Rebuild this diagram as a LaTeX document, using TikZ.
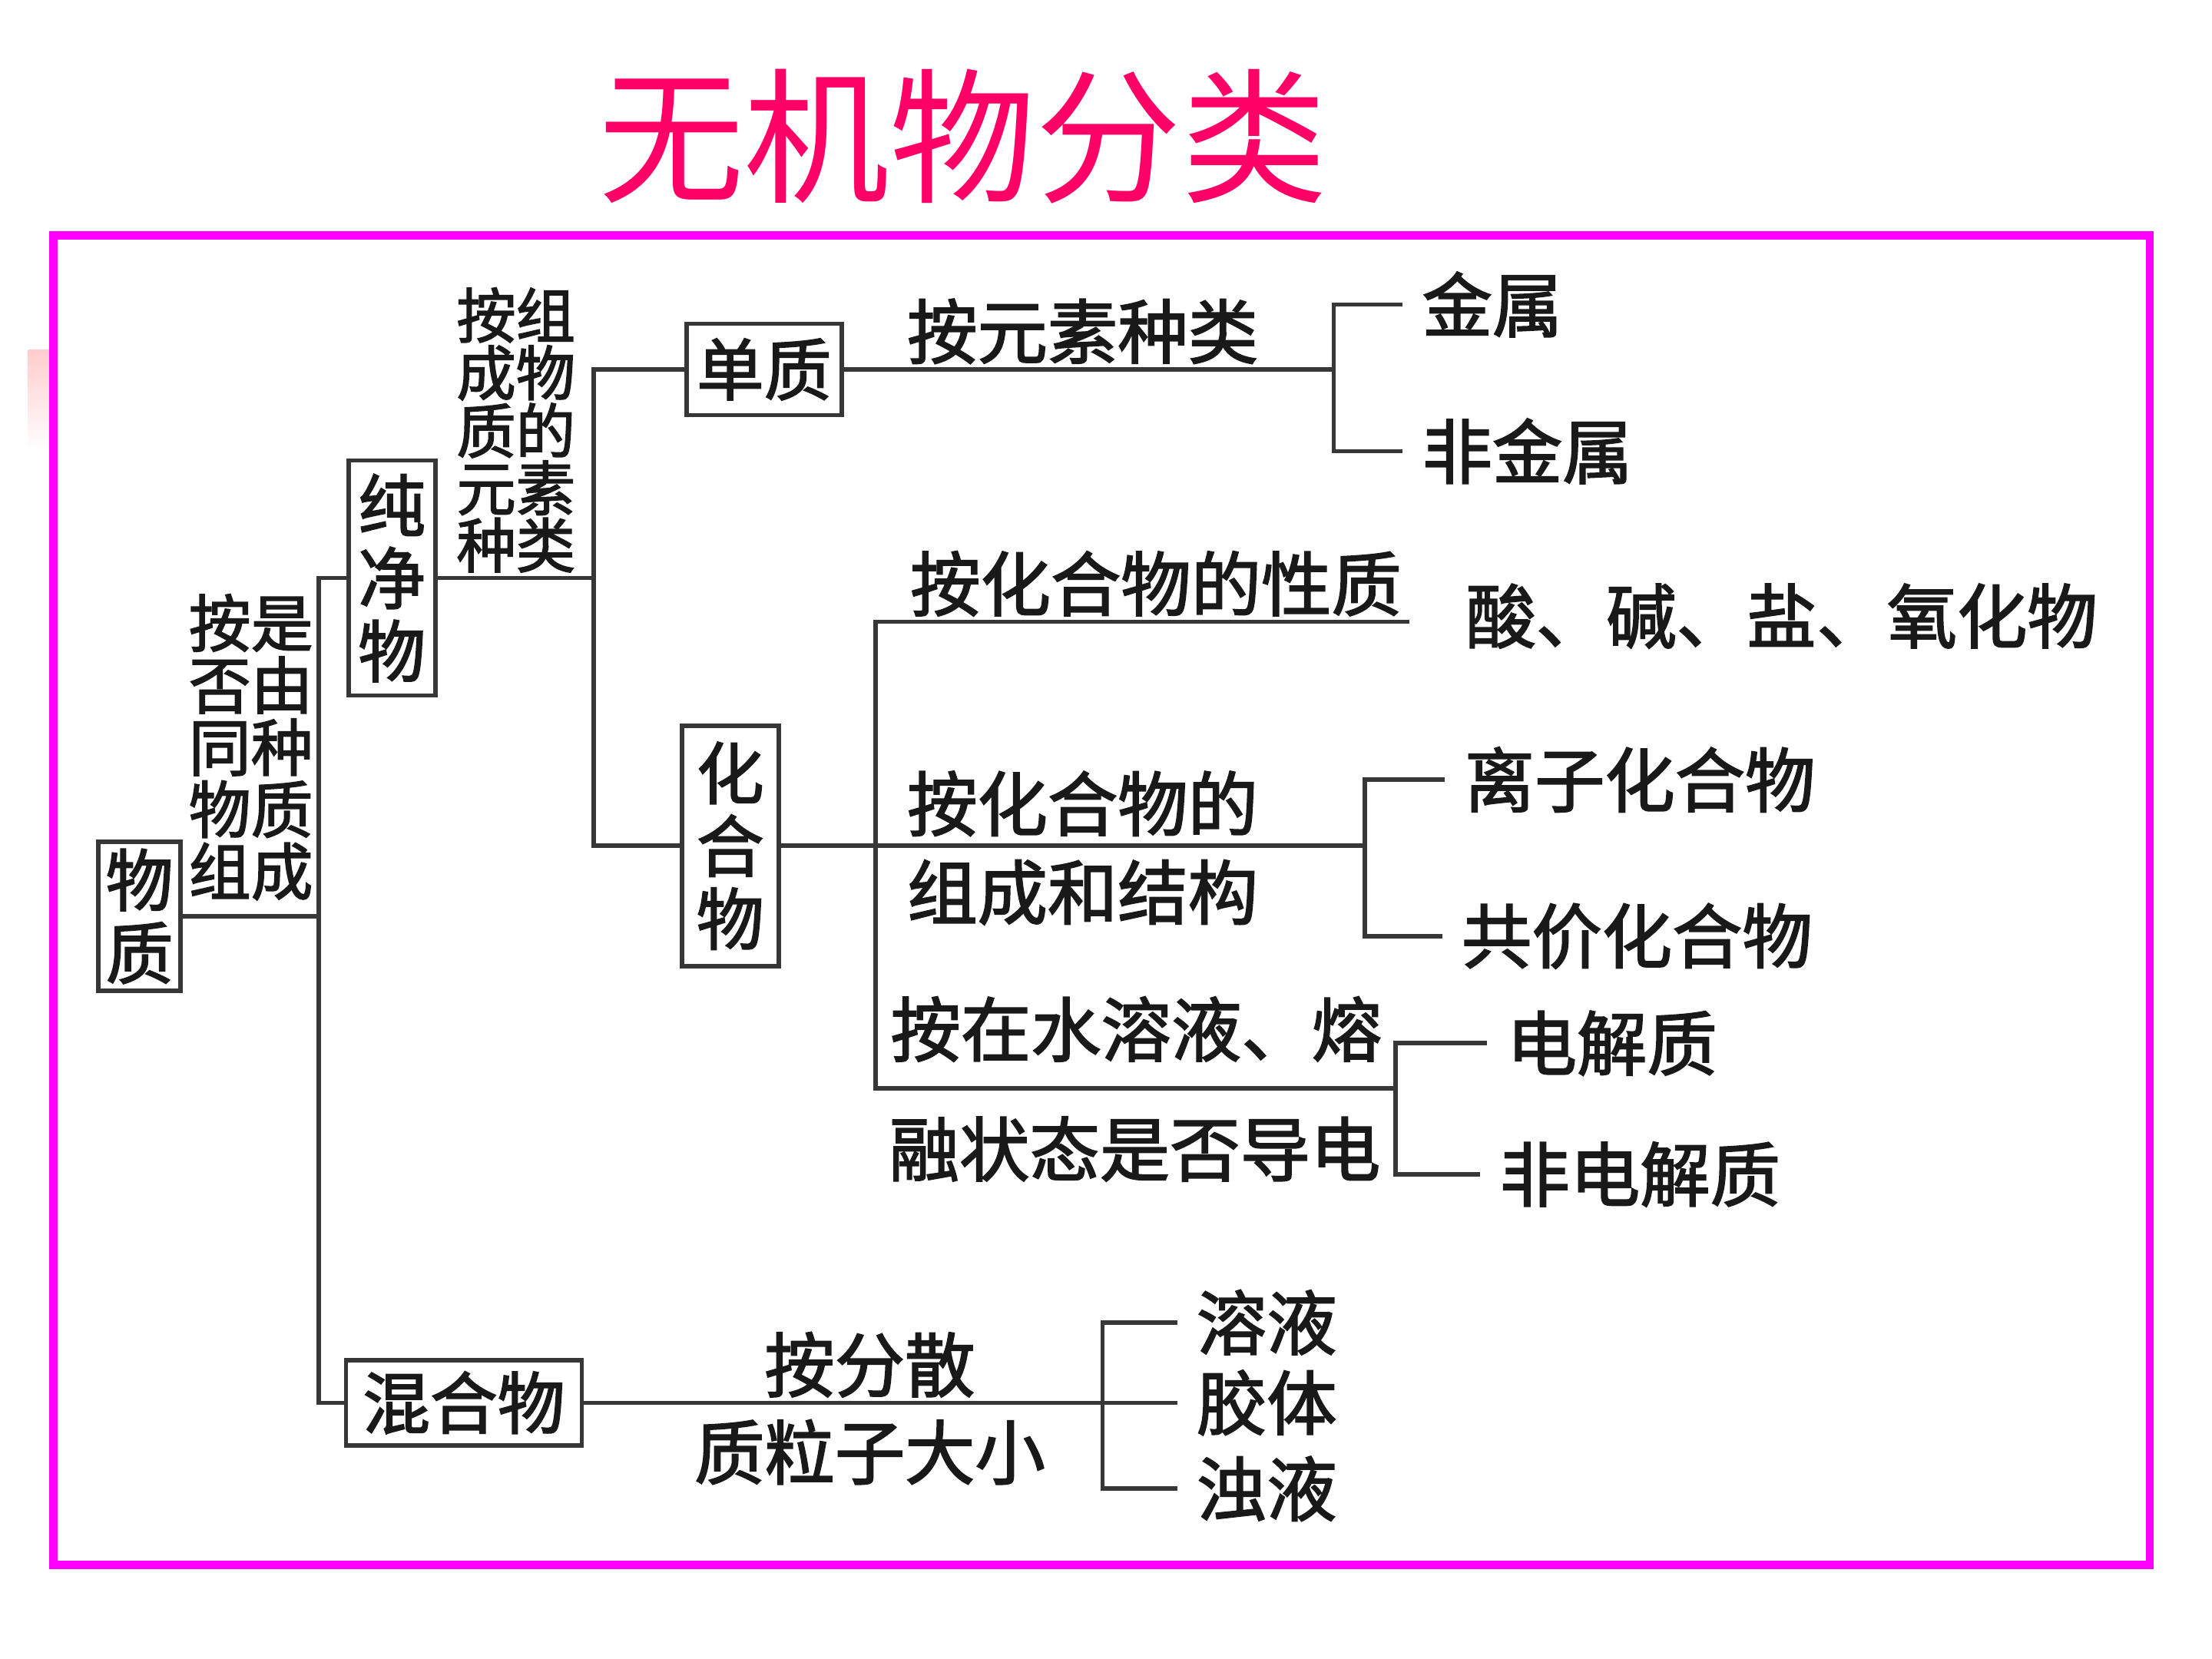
\documentclass[tikz,border=0pt]{standalone}
\usepackage{fontspec}
\setmainfont{Noto Sans CJK SC}
\newfontfamily\bodyfont{Noto Sans CJK SC}[FakeBold=2]
\usetikzlibrary{calc}

\definecolor{titlered}{RGB}{255,0,102}
\definecolor{framepink}{RGB}{255,0,255}
\definecolor{linegray}{RGB}{55,55,55}

\begin{document}
\begin{tikzpicture}[x=0.018353cm,y=-0.018353cm,
	conn/.style={draw=linegray,line width=1.6pt},
	box/.style={draw=linegray,line width=1.6pt,inner sep=2pt,align=center,text=black!90,font=\bodyfont\fontsize{25}{27}\selectfont},
	lab/.style={inner sep=1pt,align=center,text=black!90,font=\bodyfont\fontsize{26}{30}\selectfont},
	leaf/.style={anchor=west,inner xsep=7pt,inner ysep=1pt,text=black!90,font=\bodyfont\fontsize{26}{30}\selectfont}]

\useasboundingbox (0,0) rectangle (1569.1,1176.6);

\node[text=titlered,font=\fontsize{54}{54}\selectfont] (title) at (683,97) {无机物分类};
\shade[top color=red!20,bottom color=white] (20,248) rectangle (38,320);
\draw[framepink,line width=3pt] (38,167) rectangle (1525,1110);

% boxes
\node[box,minimum width=1.07cm,minimum height=1.94cm] (wuzhi) at (99,650) {物\\质};
\node[box,minimum width=1.13cm,minimum height=3.06cm] (chun) at (278,410) {纯\\净\\物};
\node[box,minimum width=2.02cm,minimum height=1.19cm] (dan) at (542,262) {单质};
\node[box,minimum width=1.26cm,minimum height=3.13cm] (hua) at (518,600) {化\\合\\物};
\node[box,minimum width=3.07cm,minimum height=1.11cm] (hun) at (329,995) {混合物};

% labels on the branches
\node[lab,font=\bodyfont\fontsize{23}{23}\selectfont] (c1) at (178,530) {按是\\否由\\同种\\物质\\组成};
\node[lab,font=\bodyfont\fontsize{22}{20}\selectfont] (c2) at (366,305) {按组\\成物\\质的\\元素\\种类};
\node[lab] (c3) at (768,235) {按元素种类};
\node[lab] (c4) at (820,414) {按化合物的性质};
\node[lab] (c5a) at (768,570) {按化合物的};
\node[lab] (c5b) at (768,633) {组成和结构};
\node[lab] (c6a) at (806,730) {按在水溶液、熔};
\node[lab] (c6b) at (805,815) {融状态是否导电};
\node[lab] (c7a) at (617,968) {按分散};
\node[lab] (c7b) at (617,1030) {质粒子大小};

% leaves
\node[leaf] (jinshu) at (995,216) {金属};
\node[leaf] (feijin) at (995,320) {非金属};
\node[leaf] (suan) at (1026,437) {酸、碱、盐、氧化物};
\node[leaf] (lizi) at (1025,553) {离子化合物};
\node[leaf] (gongjia) at (1023,664) {共价化合物};
\node[leaf] (dianjie) at (1055,740) {电解质};
\node[leaf] (feidian) at (1050,833) {非电解质};
\node[leaf] (rongye) at (835,938) {溶液};
\node[leaf] (jiaoti) at (835,995) {胶体};
\node[leaf] (zhuoye) at (835,1056) {浊液};

% junctions
\coordinate (b1) at (226,410);
\coordinate (b2) at (421,410);
\coordinate (b3) at (946,262);
\coordinate (b4) at (621,600);
\coordinate (b5) at (968,600);
\coordinate (b6) at (990,772);
\coordinate (b7) at (782,995);
\coordinate (t1) at (1000,441);

\draw[conn] (wuzhi.east) -- (wuzhi.east -| b1);
\draw[conn] (chun.west) -- (b1) |- (hun.west);

\draw[conn] (chun.east) -- (b2);
\draw[conn] (dan.west) -| (b2) |- (hua.west);

\draw[conn] (dan.east) -- (b3);
\draw[conn] (jinshu.west) -| (b3) |- (feijin.west);

\draw[conn] (hua.east) -- (b5);
\draw[conn] (lizi.west) -| (b5) |- (gongjia.west);
\draw[conn] (t1) -| (b4) |- (b6);
\draw[conn] (dianjie.west) -| (b6) |- (feidian.west);

\draw[conn] (hun.east) -- (jiaoti.west);
\draw[conn] (rongye.west) -| (b7) |- (zhuoye.west);

\end{tikzpicture}
\end{document}
